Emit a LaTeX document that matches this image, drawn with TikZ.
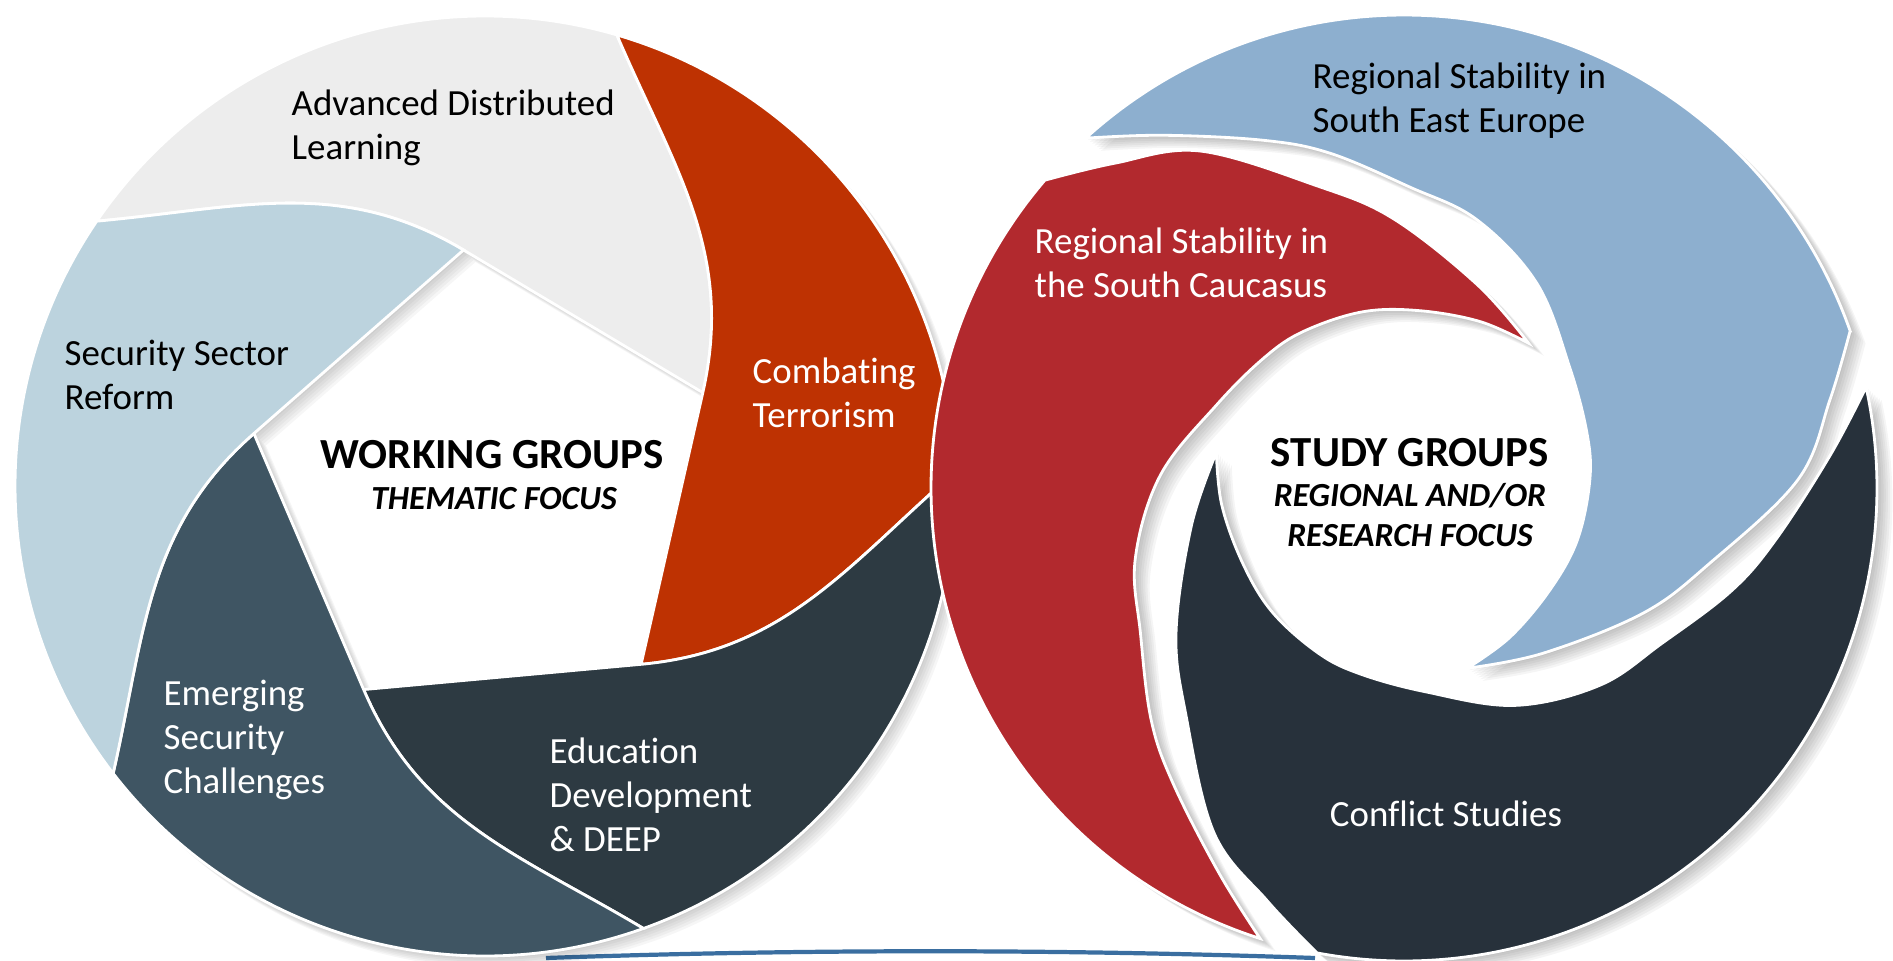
\documentclass[tikz,border=0pt]{standalone}
\usepackage{fontspec}
\setmainfont{Carlito}[Ligatures=NoCommon]

\definecolor{adlgray}{RGB}{237,237,237}
\definecolor{ctorange}{RGB}{190,50,2}
\definecolor{ssrblue}{RGB}{188,211,222}
\definecolor{escslate}{RGB}{63,85,99}
\definecolor{edddark}{RGB}{45,58,66}
\definecolor{scred}{RGB}{178,41,46}
\definecolor{seeblue}{RGB}{141,175,207}
\definecolor{csnavy}{RGB}{39,49,59}
\definecolor{plateblue}{RGB}{58,110,160}

% one aperture blade, tip at angle #1
\newcommand\rin{2.37}
\newcommand\rout{4.70}
\newcommand\aperture[1]{(#1:\rin) -- (#1+72:\rin) to[out=#1+126,in=#1-18] (#1+122.5:\rout)
  arc[start angle=#1+122.5,end angle=#1+50.5,radius=\rout] to[out=#1-90,in=#1+54] (#1:\rin) -- cycle}
% one swirl blade, drawn for the top one
\newcommand\swirl{(132.3:4.73) arc[start angle=132.3,end angle=19.4,radius=4.73]
  -- plot[smooth,tension=.6] coordinates {(19.4:4.73) (11.7:4.35) (1.2:3.94) (-13.8:3.15) (-27.6:2.70) (-49.9:2.16) (-70.7:1.91)}
  -- plot[smooth,tension=.6] coordinates {(-70.7:1.91) (-54.6:1.83) (-34.9:1.78) (-16.7:1.81) (2.5:1.86) (16.7:1.91) (36.1:2.05)
     (57:2.44) (74.8:2.78) (88.9:3.01) (102.5:3.43) (112:3.75) (124.3:4.27) (132.3:4.73)} -- cycle}

\tikzset{
  blade/.style={draw=white, line width=0.8pt},
  bladeshadow/.style={fill=black, opacity=0.035},
  bladetext/.style={font=\fontsize{10.5}{12.5}\selectfont, align=left, anchor=base west, inner sep=0pt},
  grouptitle/.style={font=\fontsize{12.2}{14}\selectfont\bfseries, anchor=base, inner sep=0pt},
  groupfocus/.style={font=\fontsize{9.6}{11.1}\selectfont\bfseries\itshape, align=center, anchor=base, inner sep=0pt}
}

\begin{document}
\begin{tikzpicture}
\useasboundingbox (0,0) rectangle (18.93,9.60);

%plate line
\draw[plateblue, line width=1.2pt] (5.46,0.02) .. controls (8.0,0.11) and (10.6,0.11) .. (13.15,0.02);

%working groups
\begin{scope}[shift={(4.85,4.74)}]
  \foreach \t in {23.2,-48.8,-120.8,-192.8,-264.8}
    \foreach \s in {1,...,6}
      \fill[bladeshadow, shift={(0.02*\s,-0.02*\s)}] \aperture{\t};
  \foreach \t/\col in {23.2/adlgray,-48.8/ctorange,-120.8/edddark,-192.8/escslate,-264.8/ssrblue}
    \filldraw[blade, fill=\col] \aperture{\t};
\end{scope}

%study groups
\begin{scope}[shift={(14.04,4.72)}]
  \foreach \r in {0,120,240}
    \foreach \s in {1,...,7}
      \fill[bladeshadow, opacity=0.04, shift={(0.022*\s,-0.018*\s)}, rotate=\r] \swirl;
  \foreach \r/\col in {0/seeblue,120/scred,240/csnavy}
    \filldraw[blade, fill=\col, rotate=\r] \swirl;
\end{scope}

%texts left (base = last line)
\node[bladetext] (adl) at (2.91,8.01) {Advanced Distributed\\Learning};
\node[bladetext, white] (ct) at (7.52,5.33) {Combating\\Terrorism};
\node[bladetext] (ssr) at (0.64,5.51) {Security Sector\\Reform};
\node[bladetext, white] (esc) at (1.63,1.67) {Emerging\\Security\\Challenges};
\node[bladetext, white] (edd) at (5.49,1.09) {Education\\Development\\\& DEEP};
\node[grouptitle] (wg) at (4.92,4.92) {WORKING GROUPS};
\node[groupfocus] (tf) at (4.94,4.51) {THEMATIC FOCUS};

%texts right
\node[bladetext] (see) at (13.12,8.28) {Regional Stability in\\South East Europe};
\node[bladetext, white] (sc) at (10.34,6.63) {Regional Stability in\\the South Caucasus};
\node[grouptitle] (sg) at (14.10,4.94) {STUDY GROUPS};
\node[groupfocus] (rf) at (14.10,4.14) {REGIONAL AND/OR\\RESEARCH FOCUS};
\node[bladetext, anchor=base, white] (cs) at (14.46,1.34) {Conflict Studies};
\end{tikzpicture}
\end{document}
